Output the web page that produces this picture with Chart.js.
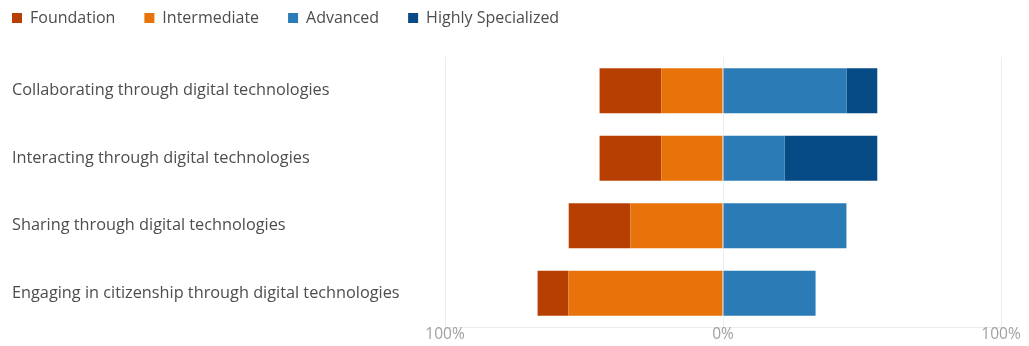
<!DOCTYPE html>
<html>
<head>
<meta charset="utf-8">
<script src="https://cdn.jsdelivr.net/npm/chart.js@4"></script>
<style>
  html, body { margin: 0; padding: 0; background: #fff; }
  #wrap { width: 1029px; height: 346px; }
</style>
</head>
<body>
<div id="wrap"><canvas id="chart"></canvas></div>
<script>
const categories = [
    'Collaborating through digital technologies',
    'Interacting through digital technologies',
    'Sharing through digital technologies',
    'Engaging in citizenship through digital technologies'
];
// left side values are negative so they stack away from 0
const foundation = [-22.2, -22.2, -22.2, -11.1];
const intermediate = [-22.2, -22.2, -33.3, -55.6];
const advanced = [44.4, 22.2, 44.4, 33.3];
const highlySpecialized = [11.1, 33.3, 0, 0];
const xTicks = [-100, 0, 100];

const FONT = "'Open Sans', sans-serif";
const legendOrder = ['Foundation', 'Intermediate', 'Advanced', 'Highly Specialized'];

// legend sits at the very top left, a bit tighter than Chart.js would place it
const legendPlace = {
    id: 'legendPlace',
    afterInit(chart) {
        const fit = chart.legend.fit;
        chart.legend.fit = function () {
            fit.call(this);
            this.height = 57;
        };
    },
    afterLayout(chart) {
        const pad = chart.options.plugins.legend.labels.padding;
        chart.legend.left = 12 - pad;
        chart.legend.top = 10 - pad;
    }
};

const ctx = document.getElementById('chart').getContext('2d');
new Chart(ctx, {
    type: 'bar',
    data: {
        labels: categories,
        datasets: [
            { label: 'Intermediate', data: intermediate, backgroundColor: '#e8730a' },
            { label: 'Foundation', data: foundation, backgroundColor: '#b83f02' },
            { label: 'Advanced', data: advanced, backgroundColor: '#2b7bb6' },
            { label: 'Highly Specialized', data: highlySpecialized, backgroundColor: '#064a86' }
        ]
    },
    options: {
        indexAxis: 'y',
        responsive: true,
        maintainAspectRatio: false,
        animation: false,
        layout: { padding: { left: 12, right: 28, top: 0, bottom: 0 } },
        datasets: { bar: { categoryPercentage: 1, barPercentage: 0.665, borderWidth: 0 } },
        scales: {
            x: {
                stacked: true,
                min: -100,
                max: 100,
                afterBuildTicks: (scale) => { scale.ticks = xTicks.map(v => ({ value: v })); },
                afterFit: (scale) => { scale.height = 19; },
                ticks: {
                    callback: (v) => Math.abs(v) + '%',
                    color: '#a0a0a0',
                    padding: -2,
                    maxRotation: 0,
                    font: { family: FONT, size: 15.5 }
                },
                grid: { color: '#ededed', drawTicks: false },
                border: { display: true, color: '#ededed' }
            },
            y: {
                stacked: true,
                afterFit: (scale) => { scale.width = 433; },
                ticks: {
                    crossAlign: 'far',
                    color: '#4d4d4d',
                    font: { family: FONT, size: 16.3 }
                },
                grid: { display: false },
                border: { display: false }
            }
        },
        plugins: {
            legend: {
                position: 'top',
                align: 'start',
                labels: {
                    boxWidth: 10,
                    boxHeight: 10,
                    padding: 29,
                    color: '#4d4d4d',
                    font: { family: FONT, size: 16 },
                    sort: (a, b) => legendOrder.indexOf(a.text) - legendOrder.indexOf(b.text)
                }
            },
            tooltip: { enabled: false }
        }
    },
    plugins: [legendPlace]
});
</script>
</body>
</html>
